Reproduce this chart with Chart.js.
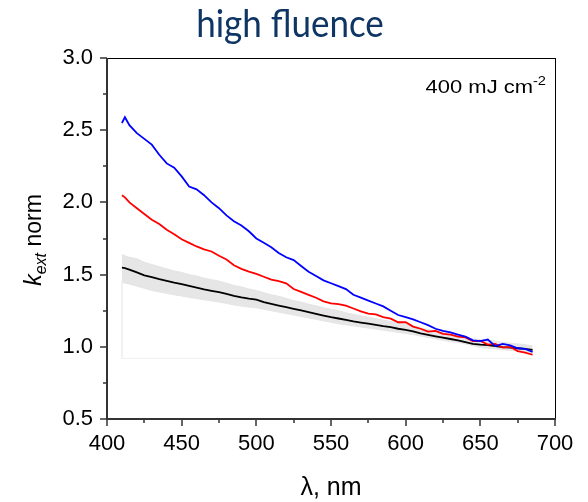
<!DOCTYPE html>
<html><head><meta charset="utf-8">
<script src="https://cdn.jsdelivr.net/npm/chart.js@4/dist/chart.umd.min.js"></script>
<style>html,body{margin:0;padding:0;background:#fff;}canvas{display:block;}</style>
</head><body>
<canvas id="c" width="588" height="502"></canvas>
<script>
const wavelengths = [410,412,415,420,425,430,435,440,445,450,455,460,465,470,475,480,485,490,495,500,505,510,515,520,525,530,535,540,545,550,555,560,565,570,575,580,585,590,595,600,605,610,615,620,625,630,635,640,645,650,655,660,665,670,675,680,685];
const blueValues = [2.55,2.59,2.535,2.48,2.44,2.40,2.33,2.27,2.24,2.18,2.11,2.09,2.05,2.00,1.96,1.91,1.87,1.84,1.80,1.75,1.72,1.69,1.65,1.62,1.60,1.56,1.52,1.49,1.46,1.44,1.42,1.40,1.36,1.34,1.32,1.30,1.28,1.25,1.22,1.205,1.19,1.17,1.15,1.125,1.11,1.10,1.085,1.07,1.045,1.04,1.05,1.005,1.02,1.01,0.99,0.985,0.965];
const redValues = [2.05,2.035,2.00,1.96,1.92,1.88,1.85,1.81,1.78,1.745,1.72,1.695,1.675,1.66,1.63,1.605,1.565,1.54,1.52,1.505,1.485,1.465,1.455,1.44,1.40,1.38,1.36,1.34,1.315,1.30,1.295,1.285,1.265,1.245,1.23,1.225,1.205,1.195,1.17,1.17,1.14,1.125,1.105,1.11,1.09,1.085,1.07,1.065,1.04,1.04,1.015,1.02,0.995,1.0,0.97,0.96,0.945];
const blackValues = [1.548,1.545,1.535,1.515,1.495,1.482,1.468,1.456,1.444,1.434,1.422,1.41,1.398,1.388,1.378,1.366,1.353,1.342,1.333,1.326,1.31,1.297,1.285,1.274,1.263,1.252,1.24,1.228,1.216,1.205,1.196,1.186,1.176,1.168,1.16,1.152,1.143,1.136,1.125,1.117,1.106,1.093,1.082,1.072,1.063,1.054,1.044,1.032,1.02,1.015,1.012,1.005,0.998,0.994,0.99,0.985,0.978];
const bandUpper = [1.64,1.63,1.62,1.61,1.585,1.57,1.555,1.54,1.525,1.515,1.50,1.49,1.475,1.465,1.455,1.44,1.425,1.415,1.40,1.39,1.375,1.36,1.35,1.335,1.32,1.31,1.295,1.285,1.27,1.26,1.25,1.235,1.225,1.215,1.205,1.195,1.185,1.175,1.165,1.155,1.145,1.13,1.12,1.11,1.10,1.09,1.08,1.07,1.055,1.05,1.045,1.04,1.03,1.025,1.02,1.015,1.005];
const bandLower = [1.45,1.44,1.435,1.42,1.405,1.39,1.38,1.37,1.36,1.352,1.342,1.334,1.325,1.318,1.31,1.30,1.29,1.282,1.275,1.27,1.26,1.25,1.24,1.23,1.22,1.21,1.20,1.19,1.18,1.17,1.16,1.152,1.145,1.137,1.13,1.122,1.115,1.108,1.10,1.092,1.085,1.075,1.065,1.055,1.045,1.037,1.03,1.02,1.008,0.995,0.99,0.985,0.98,0.975,0.97,0.965,0.955];
const bandBaseline = 0.92;
const xTicks = [400,450,500,550,600,650,700];
const yTicks = [0.5,1.0,1.5,2.0,2.5,3.0];
const titleText = 'high fluence';
const xTitle = 'λ, nm';
const fluenceLabel = '400 mJ cm';

const pts = (vals) => wavelengths.map((w, i) => ({x: w, y: vals[i]}));
const baselinePts = [
  {x: wavelengths[0], y: bandLower[0]},
  {x: wavelengths[0], y: bandBaseline},
  {x: wavelengths[wavelengths.length - 1], y: bandBaseline}
];

const decor = {
  id: 'decor',
  afterDraw(chart) {
    const ctx = chart.ctx;
    const a = chart.chartArea;
    const xs = chart.scales.x, ys = chart.scales.y;
    ctx.save();
    // frame
    ctx.strokeStyle = '#000';
    ctx.lineWidth = 1;
    ctx.beginPath();
    ctx.moveTo(a.left, a.top + 0.5); ctx.lineTo(a.right + 0.5, a.top + 0.5);
    ctx.moveTo(a.right + 0.5, a.top); ctx.lineTo(a.right + 0.5, a.bottom);
    ctx.stroke();
    ctx.strokeStyle = '#333';
    ctx.lineWidth = 2;
    ctx.beginPath();
    ctx.moveTo(a.left, a.top); ctx.lineTo(a.left, a.bottom + 1);
    ctx.moveTo(a.left - 1, a.bottom); ctx.lineTo(a.right + 1, a.bottom);
    ctx.stroke();
    // ticks
    ctx.lineWidth = 1.5;
    ctx.beginPath();
    for (let v = 400; v <= 700; v += 25) {
      const p = Math.round(xs.getPixelForValue(v));
      const len = (v % 50 === 0) ? 7 : 4;
      ctx.moveTo(p, a.bottom); ctx.lineTo(p, a.bottom + len);
    }
    for (let k = 0; k <= 10; k++) {
      const v = 0.5 + k * 0.25;
      const p = Math.round(ys.getPixelForValue(v));
      const len = (k % 2 === 0) ? 7 : 4;
      ctx.moveTo(a.left, p); ctx.lineTo(a.left - len, p);
    }
    ctx.stroke();
    // title
    ctx.fillStyle = '#0f3564';
    ctx.font = '35px Lato';
    ctx.textAlign = 'center';
    ctx.textBaseline = 'alphabetic';
    ctx.save();
    ctx.translate(290, 37);
    ctx.scale(1, 1.12);
    ctx.fillText(titleText, 0, 0);
    ctx.restore();
    // x title
    ctx.fillStyle = '#000';
    ctx.font = '25px "Liberation Sans", Arial';
    ctx.fillText(xTitle, (a.left + a.right) / 2, 495);
    // y title
    ctx.save();
    ctx.translate(41, 240);
    ctx.rotate(-Math.PI / 2);
    ctx.textAlign = 'left';
    const f1 = 'italic 23px "Liberation Sans", Arial';
    const f2 = 'italic 16px "Liberation Sans", Arial';
    const f3 = '23px "Liberation Sans", Arial';
    ctx.font = f1; const w1 = ctx.measureText('k').width;
    ctx.font = f2; const w2 = ctx.measureText('ext').width;
    ctx.font = f3; const w3 = ctx.measureText(' norm').width;
    let x0 = -(w1 + w2 + w3) / 2;
    ctx.font = f1; ctx.fillText('k', x0, 0); x0 += w1;
    ctx.font = f2; ctx.fillText('ext', x0, 5); x0 += w2;
    ctx.font = f3; ctx.fillText(' norm', x0, 0);
    ctx.restore();
    // fluence label (horizontally stretched like the reference)
    ctx.save();
    ctx.textAlign = 'left';
    ctx.translate(546, 93);
    ctx.scale(1.22, 1);
    ctx.font = '18px "Liberation Sans", Arial';
    const lw = ctx.measureText(fluenceLabel).width;
    ctx.font = '12px "Liberation Sans", Arial';
    const sw = ctx.measureText('-2').width;
    const lx = -(lw + sw);
    ctx.font = '18px "Liberation Sans", Arial';
    ctx.fillText(fluenceLabel, lx, 0);
    ctx.font = '12px "Liberation Sans", Arial';
    ctx.fillText('-2', lx + lw, -8);
    ctx.restore();
    ctx.restore();
  }
};

new Chart(document.getElementById('c'), {
  type: 'line',
  data: {
    datasets: [
      {label: 'blue', data: pts(blueValues), borderColor: '#0000ff', borderWidth: 1.8, pointRadius: 0, fill: false, order: 1},
      {label: 'red', data: pts(redValues), borderColor: '#ff0000', borderWidth: 1.8, pointRadius: 0, fill: false, order: 2},
      {label: 'black', data: pts(blackValues), borderColor: '#000000', borderWidth: 1.8, pointRadius: 0, fill: false, order: 3},
      {label: 'lower', data: pts(bandLower), borderColor: '#e4e4e4', borderWidth: 1, pointRadius: 0, fill: false, order: 5},
      {label: 'upper', data: pts(bandUpper), borderColor: '#e4e4e4', borderWidth: 1, pointRadius: 0, fill: '-1', backgroundColor: '#e6e6e6', order: 4},
      {label: 'base', data: baselinePts, borderColor: '#efefef', borderWidth: 1, pointRadius: 0, fill: false, order: 6}
    ]
  },
  options: {
    responsive: false,
    animation: false,
    layout: {padding: {top: 58, right: 33, left: 0, bottom: 0}},
    plugins: {legend: {display: false}, title: {display: false}, tooltip: {enabled: false}},
    scales: {
      x: {
        type: 'linear', min: 400, max: 700,
        afterBuildTicks: (s) => { s.ticks = xTicks.map(v => ({value: v})); },
        afterFit: (s) => { s.height = 83; },
        grid: {display: true, drawOnChartArea: false, drawTicks: true, tickLength: 7, color: 'rgba(0,0,0,0)'},
        border: {display: false},
        ticks: {color: '#000', font: {family: '"Liberation Sans", Arial', size: 22}, padding: 5, maxRotation: 0}
      },
      y: {
        type: 'linear', min: 0.5, max: 3.0,
        afterBuildTicks: (s) => { s.ticks = yTicks.map(v => ({value: v})); },
        afterFit: (s) => { s.width = 107; },
        grid: {display: true, drawOnChartArea: false, drawTicks: true, tickLength: 7, color: 'rgba(0,0,0,0)'},
        border: {display: false},
        ticks: {color: '#000', font: {family: '"Liberation Sans", Arial', size: 22}, padding: 7, callback: (v) => Number(v).toFixed(1)}
      }
    }
  },
  plugins: [decor]
});
</script>
</body></html>
